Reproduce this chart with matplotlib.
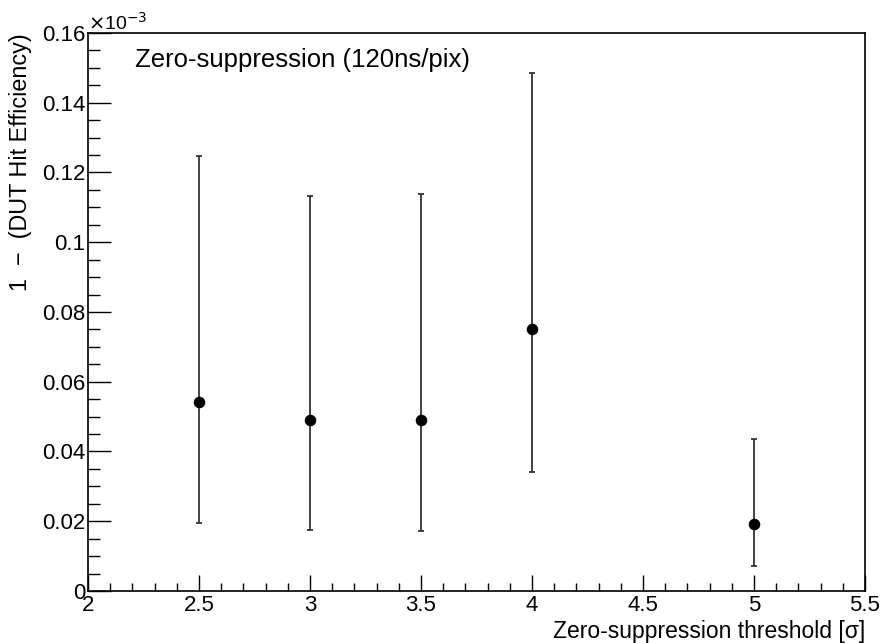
import matplotlib
matplotlib.use('Agg')
import matplotlib.pyplot as plt
import numpy as np
from matplotlib.ticker import MultipleLocator, FuncFormatter

plt.rcParams['font.family'] = ['Liberation Sans', 'DejaVu Sans']

# values in units of 1e-3
threshold = [2.5, 3.0, 3.5, 4.0, 5.0]
ineff = [0.0541, 0.0490, 0.0490, 0.0750, 0.0191]
err_up = [0.1248, 0.1132, 0.1139, 0.1484, 0.0436]
err_lo = [0.0195, 0.0175, 0.0173, 0.0340, 0.0071]

y = np.array(ineff)
yerr = [y - np.array(err_lo), np.array(err_up) - y]

fig = plt.figure(figsize=(8.82, 6.43), dpi=100)
ax = fig.add_axes([0.0998, 0.0809, 0.8809, 0.8678])

ax.errorbar(threshold, y, yerr=yerr, fmt='o', color='black', ecolor='#333333',
            elinewidth=1.3, capsize=2.5, capthick=1.3, markersize=7.3)

ax.set_xlim(2, 5.5)
ax.set_ylim(0, 0.16)
ax.xaxis.set_major_locator(MultipleLocator(0.5))
ax.xaxis.set_minor_locator(MultipleLocator(0.1))
ax.yaxis.set_major_locator(MultipleLocator(0.02))
ax.yaxis.set_minor_locator(MultipleLocator(0.005))

fmt = FuncFormatter(lambda v, p: ('%g' % round(v, 4)))
ax.xaxis.set_major_formatter(fmt)
ax.yaxis.set_major_formatter(fmt)

ax.tick_params(axis='x', which='major', direction='in', length=11.5, width=1, labelsize=16, pad=3)
ax.tick_params(axis='x', which='minor', direction='in', length=5.8, width=1)
ax.tick_params(axis='y', which='major', direction='in', length=16.5, width=1, labelsize=16, pad=2)
ax.tick_params(axis='y', which='minor', direction='in', length=8.6, width=1)
for s in ax.spines.values():
    s.set_linewidth(1.2)

ax.text(0.0, 0.998, r'$\times$10$^{-3}$', transform=ax.transAxes, fontsize=14,
        ha='left', va='bottom')

ax.text(0.060, 0.939, 'Zero-suppression (120ns/pix)', transform=ax.transAxes,
        fontsize=18.5, ha='left', va='baseline')

ax.set_xlabel('Zero-suppression threshold [σ]', fontsize=16.5, loc='right', va='baseline')
ax.xaxis.set_label_coords(1.0, -0.084)
ax.set_ylabel('1  −  (DUT Hit Efficiency)', fontsize=16.8, loc='top', va='center')
ax.yaxis.set_label_coords(-0.0865, 1.0)

fig.savefig('out.png', dpi=100)
